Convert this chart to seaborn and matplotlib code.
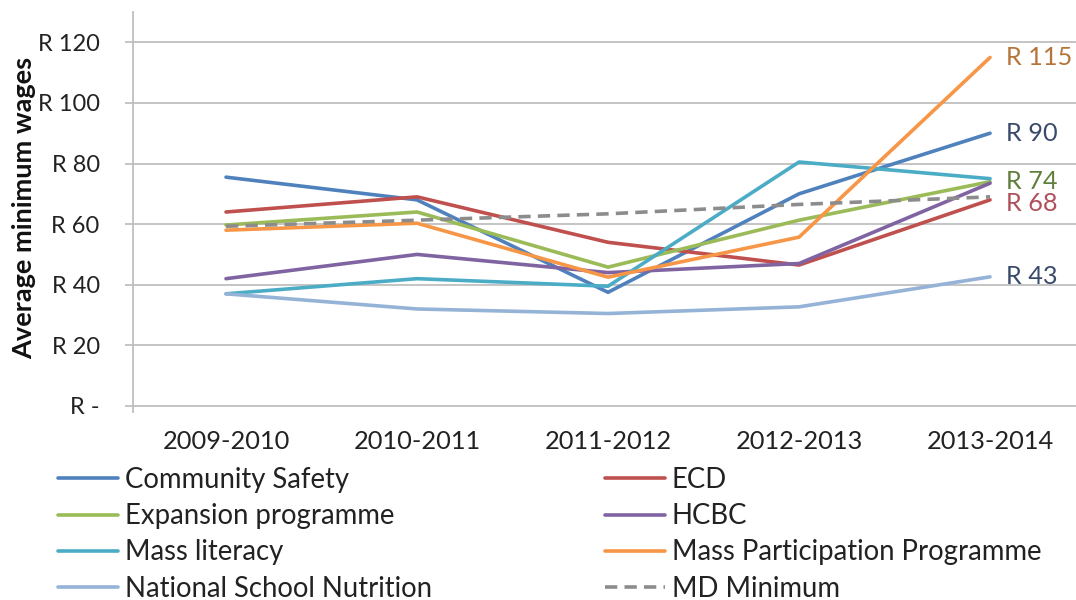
import matplotlib
matplotlib.use("Agg")
import matplotlib.pyplot as plt
import seaborn as sns
import pandas as pd
from matplotlib.lines import Line2D

years = ["2009-2010", "2010-2011", "2011-2012", "2012-2013", "2013-2014"]
community_safety = [75.5, 68, 37.5, 70, 90]
ecd = [64, 69, 54, 46.5, 68]
expansion = [59.7, 64, 45.8, 61.3, 74]
hcbc = [42, 50, 44, 47, 73.5]
mass_literacy = [37, 42, 39.5, 80.5, 75]
mass_participation = [58, 60.3, 42.5, 55.7, 115]
school_nutrition = [37, 32, 30.5, 32.7, 42.6]
md_minimum = [59.3, 61.3, 63.4, 66.5, 69]

series_names = ["Community Safety", "ECD", "Expansion programme", "HCBC",
                "Mass literacy", "Mass Participation Programme",
                "National School Nutrition", "MD Minimum"]
series_values = [community_safety, ecd, expansion, hcbc, mass_literacy,
                 mass_participation, school_nutrition, md_minimum]
colors = ["#4F81BD", "#C0504D", "#9BBB59", "#8064A2", "#4BACC6",
          "#F79646", "#95B3D7", "#8C8C8C"]
y_ticks = [0, 20, 40, 60, 80, 100, 120]
y_tick_labels = ["R -", "R 20", "R 40", "R 60", "R 80", "R 100", "R 120"]

labelled = {"Mass Participation Programme": "#B5743A",
            "Community Safety": "#3A4A6B",
            "Expansion programme": "#5F7F3A",
            "ECD": "#B0505A",
            "National School Nutrition": "#3A4A6B"}
label_dy = {"ECD": -4}

rows = []
for name, vals in zip(series_names, series_values):
    for yr, v in zip(years, vals):
        rows.append({"Year": yr, "Wage": v, "Series": name})
df = pd.DataFrame(rows)

sns.set_theme(style="white")
plt.rcParams["font.family"] = ["Lato", "DejaVu Sans"]
FS_Y = 17
FS_X = 18.3
FS_LAB = 18.2
FS_LEG = 19.8

fig = plt.figure(figsize=(10.76, 6), dpi=100)
ax = fig.add_axes([133/1076, (600-412)/600, (1076-133)/1076, 400/600])

palette = dict(zip(series_names, colors))
dashes = {n: "" for n in series_names}
dashes["MD Minimum"] = (3.4, 2.0)
sns.lineplot(data=df, x="Year", y="Wage", hue="Series", style="Series",
             hue_order=series_names, style_order=series_names,
             palette=palette, dashes=dashes, linewidth=2.6, ax=ax,
             legend=False, sort=False)

ax.set_xlim(-0.487, 4.45)
ax.set_ylim(-2, 130)
ax.set_yticks(y_ticks)
ax.set_yticklabels(y_tick_labels)
ax.yaxis.grid(True, color="#BFBFBF", linewidth=1.3)
ax.xaxis.grid(False)
ax.set_axisbelow(True)
for s in ["top", "right", "bottom"]:
    ax.spines[s].set_visible(False)
ax.spines["left"].set_color("#BFBFBF")
ax.spines["left"].set_linewidth(1.3)
ax.tick_params(axis="y", which="major", left=True, length=6, width=1.3,
               color="#BFBFBF", pad=18, labelsize=FS_Y, labelcolor="#222222")
ax.tick_params(axis="x", length=0, pad=13, labelsize=FS_X, labelcolor="#222222")
ax.set_xlabel("")
ax.set_ylabel("")
fig.text(24/1076, 1-208/600, "Average minimum wages", rotation=90,
         ha="center", va="center", fontsize=19.5, fontweight="bold",
         color="#111111")

for name, vals in zip(series_names, series_values):
    if name in labelled:
        v = vals[-1]
        ax.annotate(f"R {v:.0f}", xy=(4, v), xytext=(16, label_dy.get(name, 0)),
                    textcoords="offset pixels", ha="left", va="center",
                    fontsize=FS_LAB, color=labelled[name], annotation_clip=False)

handles = {n: Line2D([0], [0], color=c, lw=2.6,
                     linestyle=(0, (3.4, 2.0)) if n == "MD Minimum" else "-")
           for n, c in zip(series_names, colors)}
col1 = ["Community Safety", "Expansion programme", "Mass literacy",
        "National School Nutrition"]
col2 = ["ECD", "HCBC", "Mass Participation Programme", "MD Minimum"]
common = dict(loc="upper left", frameon=False, fontsize=FS_LEG, borderpad=0,
              borderaxespad=0, handlelength=2.18, handletextpad=0.25,
              labelspacing=0.37, bbox_transform=fig.transFigure)
leg1 = ax.legend([handles[n] for n in col1], col1,
                 bbox_to_anchor=(58/1076, 1-467/600), **common)
for t in leg1.get_texts():
    t.set_color("#222222")
ax.add_artist(leg1)
leg2 = ax.legend([handles[n] for n in col2], col2,
                 bbox_to_anchor=(605/1076, 1-467/600), **common)
for t in leg2.get_texts():
    t.set_color("#222222")

fig.savefig("out.png", dpi=100)
